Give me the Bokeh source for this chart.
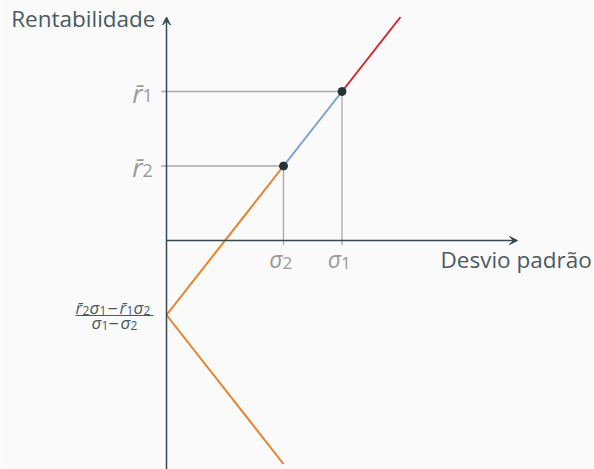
from bokeh.plotting import figure
from bokeh.models import Range1d, Arrow, VeeHead
from bokeh.core.properties import value
from bokeh.embed import file_html
from bokeh.resources import INLINE

# Two risky assets: standard deviations and expected returns
sigma = [2.0, 3.0]          # sigma_2, sigma_1
ret = [1.0, 2.0]            # r2, r1
sub_index = ["2", "1"]      # subscripts of the two assets
frontier_end_sigma = 4.0    # where the upper frontier is cut off
lower_end_sigma = 2.0       # where the lower branch is cut off

s2, s1 = sigma
r2, r1 = ret
intercept = (r2 * s1 - r1 * s2) / (s1 - s2)
slope = (r1 - r2) / (s1 - s2)

W, H = 594, 469
BG = "#fafafa"
AXIS = "#37474f"
GUIDE = "#a9a9a9"
LABEL = "#9a9a9a"
DARK = "#4a5a62"
FONT = "Open Sans"
SHIFT = -8   # baseline correction for the text glyphs, in pixels

p = figure(width=W, height=H, output_backend="svg", toolbar_location=None,
           x_range=Range1d(-166 / 58.5, (W - 166) / 58.5),
           y_range=Range1d(-(H - 240) / 74.5, 240 / 74.5),
           min_border=0, background_fill_color=BG, border_fill_color=BG)
p.axis.visible = False
p.grid.visible = False
p.outline_line_color = None


def piece(x, y, txt, dx, dy, size, color, italic=True, align="left"):
    """Draw one fragment of a label, offset in screen pixels from (x, y)."""
    p.text(x=[x], y=[y], text=[txt], x_offset=dx, y_offset=dy + SHIFT,
           text_align=align, text_baseline="alphabetic",
           text_font=value(FONT), text_font_style="italic" if italic else "normal",
           text_font_size=f"{size}px", text_color=color)


# guide lines from the axes to each asset
for s, r in zip(sigma, ret):
    p.line([-0.09, s], [r, r], line_color=GUIDE, line_width=1.3)
    p.line([s, s], [r, -0.06], line_color=GUIDE, line_width=1.3)

# axes with arrow heads
p.add_layout(Arrow(end=VeeHead(size=8, line_color=AXIS, fill_color=AXIS, line_width=1),
                   x_start=0, y_start=-3.2, x_end=0, y_end=3.0,
                   line_color=AXIS, line_width=1.5))
p.add_layout(Arrow(end=VeeHead(size=8, line_color=AXIS, fill_color=AXIS, line_width=1),
                   x_start=0, y_start=0, x_end=6.0, y_end=0,
                   line_color=AXIS, line_width=1.5))

# frontier segments
p.line([0, s2], [intercept, r2], line_color="#e5822a", line_width=2)
p.line([0, lower_end_sigma], [intercept, intercept - slope * lower_end_sigma],
       line_color="#e5822a", line_width=2)
p.line([s2, s1], [r2, r1], line_color="#7b9ed8", line_width=2)
p.line([s1, frontier_end_sigma], [r1, r1 + slope * (frontier_end_sigma - s1)],
       line_color="#d3262a", line_width=2)
p.scatter(sigma, ret, size=8, fill_color="#263238", line_color="#263238")

# return labels on the vertical axis: r-bar with subscript
for r, k in zip(ret, sub_index):
    piece(0, r, "r̄", -24, 9, 26, LABEL, align="right")
    piece(0, r, k, -24, 12, 18, LABEL, italic=False)

# sigma labels below the horizontal axis
for s, k in zip(sigma, sub_index):
    piece(s, 0, "σ", -1, 26, 23, LABEL, align="right")
    piece(s, 0, k, -1, 30, 17, LABEL, italic=False)

# axis titles
piece(0, 0, "Rentabilidade", -11, 26 - 240, 22.5, DARK, italic=False, align="right")
piece(0, 0, "Desvio padrão", 440 - 166, 267 - 240, 22.5, DARK, italic=False)

# intercept label as a stacked fraction
num = [("r̄", -91, 0, 17, True), ("2", -84, 3, 12, False),
       ("σ", -77, 0, 17, True), ("1", -67, 3, 12, False),
       ("−", -59, 1, 18, False),
       ("r̄", -47, 0, 17, True), ("1", -40, 3, 12, False),
       ("σ", -33, 0, 17, True), ("2", -23, 3, 12, False)]
den = [("σ", -75, 15, 17, True), ("1", -65, 18, 12, False),
       ("−", -58, 16, 18, False),
       ("σ", -46, 15, 17, True), ("2", -36, 18, 12, False)]
for txt, dx, dy, size, it in num + den:
    piece(0, intercept, txt, dx, dy, size, DARK, italic=it)
p.line([-91 / 58.5, -13 / 58.5], [intercept - 0.5 / 74.5] * 2, line_color=DARK, line_width=1)

open("out.html", "w").write(file_html(p, INLINE))
